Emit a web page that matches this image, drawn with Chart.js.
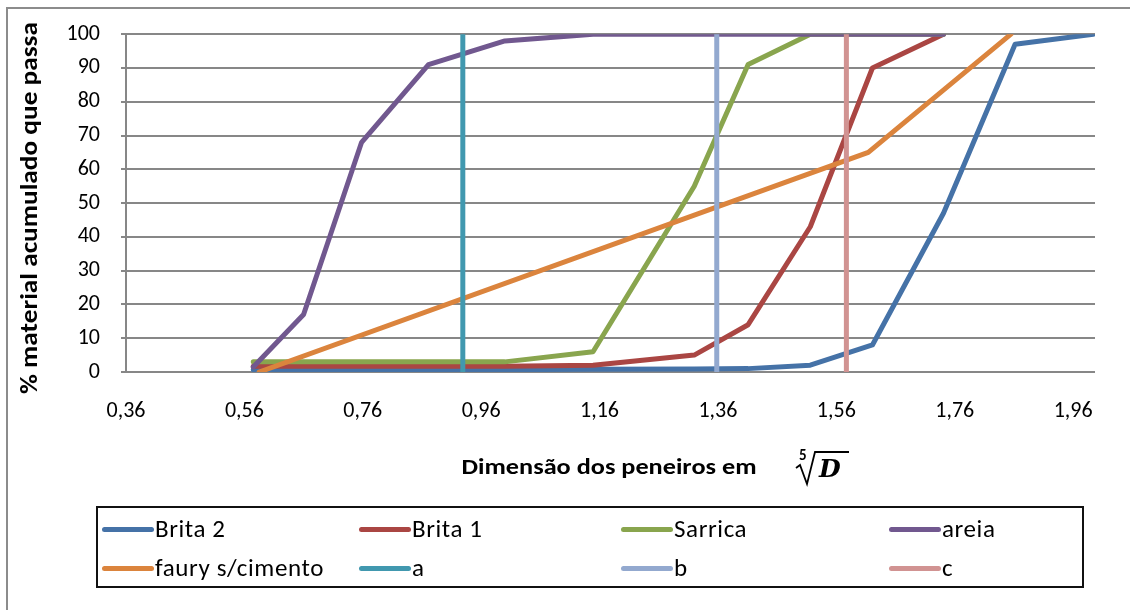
<!DOCTYPE html>
<html>
<head>
<meta charset="utf-8">
<script src="https://cdn.jsdelivr.net/npm/chart.js@4/dist/chart.umd.min.js"></script>
<style>
  html, body { margin: 0; padding: 0; background: #fff; overflow: hidden; }
  #wrap { position: relative; width: 1130px; height: 610px; }
  #frame { position: absolute; left: 6px; top: 7px; width: 1200px; height: 700px; border-left: 2px solid #8c8c8c; border-top: 2px solid #8c8c8c; }
  #legend { position: absolute; left: 96px; top: 506px; width: 984px; height: 78px; border: 2px solid #111; font-family: Carlito, Calibri, Lato, sans-serif; font-size: 25px; letter-spacing: 0.6px; color: #000; }
  .item { position: absolute; height: 28px; line-height: 28px; white-space: nowrap; }
  .item span.ln { position: absolute; left: 0; top: 12px; width: 52px; height: 5px; border-radius: 3px; }
  .item span.tx { position: absolute; left: 53px; top: 0; }
</style>
</head>
<body>
<div id="wrap">
  <div id="frame"></div>
  <canvas id="myChart" width="1130" height="610" style="position:absolute;left:0;top:0"></canvas>
  <div id="legend"></div>
</div>
<script>
// x = fifth root of sieve size
const sieveX = [0.575, 0.660, 0.758, 0.871, 1.000, 1.149, 1.320, 1.411, 1.516, 1.621, 1.741, 1.862, 1.994];
const brita2 = [0.7, 0.7, 0.7, 0.7, 0.7, 0.8, 0.9, 1, 2, 8, 47, 97, 100];
const brita1 = [1.7, 1.7, 1.7, 1.7, 1.7, 2, 5, 14, 43, 90, 100, null, null];
const sarrica = [3, 3, 3, 3, 3, 6, 55, 91, 100, 100, 100, null, null];
const areia = [1.5, 17, 68, 91, 98, 100, 100, 100, 100, 100, 100, null, null];

const fauryX = [0.585, 1.614, 1.855];
const fauryY = [0, 65, 100];

const lineA = 0.929;
const lineB = 1.358;
const lineC = 1.577;

const xTicks = [0.36, 0.56, 0.76, 0.96, 1.16, 1.36, 1.56, 1.76, 1.96];
const yTicks = [0, 10, 20, 30, 40, 50, 60, 70, 80, 90, 100];

const names = ['Brita 2', 'Brita 1', 'Sarrica', 'areia', 'faury s/cimento', 'a', 'b', 'c'];
const colors = ['#4572A7', '#AA4643', '#89A54E', '#71588F', '#DB843D', '#4198AF', '#93A9CF', '#D19392'];

function toPoints(xs, ys) {
  var pts = [];
  for (var i = 0; i < xs.length; i++) {
    if (ys[i] !== null) pts.push({ x: xs[i], y: ys[i] });
  }
  return pts;
}
function vline(x) {
  return [{ x: x, y: 0 }, { x: x, y: 100 }];
}

const seriesData = [
  toPoints(sieveX, brita2),
  toPoints(sieveX, brita1),
  toPoints(sieveX, sarrica),
  toPoints(sieveX, areia),
  toPoints(fauryX, fauryY),
  vline(lineA),
  vline(lineB),
  vline(lineC)
];

const FONT = 'Carlito, Calibri, Lato, sans-serif';
Chart.defaults.font.family = FONT;
Chart.defaults.color = '#000';

const datasets = seriesData.map(function(d, i) {
  return {
    label: names[i],
    data: d,
    borderColor: colors[i],
    backgroundColor: colors[i],
    borderWidth: 5,
    borderCapStyle: 'round',
    borderJoinStyle: 'round',
    pointRadius: 0,
    fill: false,
    tension: 0,
    order: names.length - i // later series on top, like excel
  };
});

// draw text squeezed/stretched to a given width
function fitText(c, txt, cx, cy, w) {
  var m = c.measureText(txt).width;
  c.save();
  c.translate(cx, cy);
  c.scale(w / m, 1);
  c.textAlign = 'center';
  c.textBaseline = 'middle';
  c.fillText(txt, 0, 0);
  c.restore();
}

// axis titles drawn by hand (the x one has a fifth-root symbol)
const titlesPlugin = {
  id: 'titles',
  afterDraw: function(chart) {
    const c = chart.ctx;
    c.save();
    c.fillStyle = '#000';
    c.translate(31, 208);
    c.rotate(-Math.PI / 2);
    c.font = 'bold 24px ' + FONT;
    fitText(c, '% material acumulado que passa', 0, 0, 372);
    c.restore();

    c.save();
    c.fillStyle = '#000';
    c.font = 'bold 22px ' + FONT;
    fitText(c, 'Dimensão dos peneiros em', 609, 468, 295);
    // fifth root of D
    c.font = 'bold 15px ' + FONT;
    c.textAlign = 'left';
    c.textBaseline = 'middle';
    c.fillText('5', 799, 456);
    c.strokeStyle = '#000';
    c.lineWidth = 1.8;
    c.beginPath();
    c.moveTo(796, 468);
    c.lineTo(800, 465);
    c.lineTo(807, 484);
    c.lineTo(815, 452);
    c.lineTo(849, 452);
    c.stroke();
    c.font = 'bold italic 25px "DejaVu Serif", serif';
    c.fillText('D', 819, 470);
    c.restore();
  }
};

new Chart(document.getElementById('myChart'), {
  type: 'line',
  data: { datasets: datasets },
  plugins: [titlesPlugin],
  options: {
    responsive: false,
    animation: false,
    layout: { padding: { left: 0, top: 32, right: 35, bottom: 178 } },
    plugins: {
      legend: { display: false },
      tooltip: { enabled: false }
    },
    scales: {
      x: {
        type: 'linear',
        min: 0.36,
        max: 1.997,
        afterFit: function(scale) { scale.height = 60; },
        afterBuildTicks: function(scale) {
          scale.ticks = xTicks.map(function(v) { return { value: v }; });
        },
        grid: { display: false },
        border: { display: false },
        ticks: {
          padding: 18,
          maxRotation: 0,
          autoSkip: false,
          font: { size: 22 },
          callback: function(v) { return v.toFixed(2).replace('.', ','); }
        }
      },
      y: {
        min: 0,
        max: 100,
        afterFit: function(scale) { scale.width = 126; },
        afterBuildTicks: function(scale) {
          scale.ticks = yTicks.map(function(v) { return { value: v }; });
        },
        grid: { color: '#878787', lineWidth: 2, drawTicks: true, tickLength: 5 },
        border: { display: true, color: '#878787', width: 2 },
        ticks: { padding: 21, font: { size: 22 } }
      }
    }
  }
});

// legend box, 4 columns x 2 rows
const legendCols = [4, 261, 523, 791];
const legendRows = [7, 46];
const leg = document.getElementById('legend');
names.forEach(function(n, i) {
  var it = document.createElement('div');
  it.className = 'item';
  it.style.left = legendCols[i % 4] + 'px';
  it.style.top = legendRows[Math.floor(i / 4)] + 'px';
  it.innerHTML = '<span class="ln" style="background:' + colors[i] + '"></span><span class="tx">' + n + '</span>';
  leg.appendChild(it);
});
</script>
</body>
</html>
